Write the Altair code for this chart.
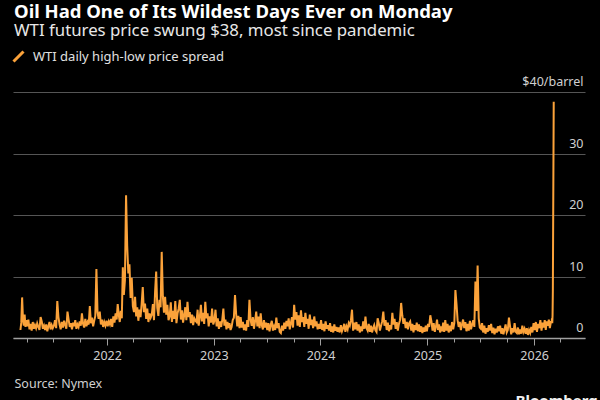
import calendar
import altair as alt
import pandas as pd

SERIES = "WTI daily high-low price spread"

# WTI daily high-low spread ($/barrel), ~8 readings per month
y2021 = [  # Mar (from the 9th) .. Dec
    [1.3, 2.5, 6.6, 3.2, 2.0, 3.8, 1.8, 2.9],
    [1.9, 3.0, 1.4, 2.3, 1.2, 2.6, 1.5, 2.1],
    [1.6, 2.4, 1.8, 1.3, 3.4, 2.7, 1.5, 2.0],
    [1.3, 2.2, 1.1, 1.9, 2.6, 1.4, 2.1, 1.6],
    [2.0, 2.9, 1.6, 6.0, 3.4, 2.2, 1.4, 2.6],
    [1.7, 2.8, 2.1, 1.5, 4.3, 3.0, 1.8, 2.4],
    [1.4, 2.5, 1.9, 2.9, 1.5, 2.2, 1.8, 2.7],
    [2.0, 4.0, 2.3, 1.7, 3.1, 1.9, 2.6, 2.2],
    [5.2, 2.4, 3.3, 1.9, 2.8, 3.6, 11.2, 4.2],
    [3.1, 4.3, 2.2, 3.0, 1.8, 2.6, 2.0, 2.8],
]
y2022 = [
    [1.9, 2.7, 2.2, 3.1, 1.8, 3.5, 2.5, 4.0],
    [3.0, 5.5, 3.8, 2.6, 4.4, 3.2, 11.5, 7.0],
    [9.4, 23.2, 15.0, 10.5, 12.0, 6.5, 9.8, 5.2],
    [4.2, 6.7, 3.5, 5.0, 2.8, 4.6, 3.4, 5.5],
    [8.3, 4.2, 5.6, 3.1, 4.8, 2.6, 4.0, 3.3],
    [3.8, 5.5, 2.9, 7.5, 10.8, 4.9, 3.6, 6.2],
    [5.0, 14.0, 6.8, 4.1, 6.7, 3.8, 5.4, 2.9],
    [3.5, 5.8, 2.6, 4.4, 3.1, 6.0, 2.4, 4.0],
    [4.8, 6.2, 3.0, 4.5, 2.5, 3.7, 5.0, 2.9],
    [5.9, 3.4, 4.2, 2.4, 3.8, 2.1, 3.2, 2.8],
    [2.6, 4.6, 2.0, 3.4, 5.4, 2.7, 4.1, 2.3],
    [5.9, 3.2, 4.0, 1.9, 3.5, 2.5, 4.8, 2.2],
]
y2023 = [
    [2.8, 4.6, 1.9, 3.2, 1.5, 2.7, 1.8, 3.0],
    [4.8, 2.0, 3.0, 1.4, 2.6, 1.6, 2.4, 1.3],
    [1.8, 2.9, 3.3, 7.0, 3.9, 1.9, 3.6, 1.6],
    [3.4, 1.7, 2.6, 1.3, 2.2, 1.2, 2.9, 1.8],
    [6.2, 3.0, 2.0, 3.4, 1.5, 2.8, 4.3, 1.9],
    [3.5, 1.6, 4.0, 2.1, 1.4, 2.9, 1.7, 2.5],
    [1.3, 2.4, 1.1, 2.1, 2.8, 1.2, 1.9, 1.3],
    [3.3, 1.6, 2.4, 1.0, 0.8, 2.0, 1.2, 2.5],
    [1.5, 2.8, 1.9, 3.2, 1.4, 2.4, 3.4, 1.7],
    [5.4, 3.0, 4.2, 2.0, 3.7, 1.8, 4.5, 2.6],
    [3.4, 1.8, 4.1, 2.3, 3.1, 1.5, 3.8, 2.1],
    [3.0, 1.6, 3.5, 1.9, 2.7, 1.4, 2.3, 1.5],
]
y2024 = [
    [2.9, 1.3, 2.3, 1.1, 2.7, 1.5, 2.1, 1.2],
    [2.4, 1.0, 1.9, 0.9, 2.2, 1.2, 1.8, 1.0],
    [1.7, 0.9, 2.1, 1.1, 1.6, 2.3, 1.0, 1.9],
    [1.4, 2.4, 2.0, 2.9, 4.6, 1.2, 2.5, 1.4],
    [2.6, 1.2, 2.2, 0.9, 1.9, 1.1, 2.7, 1.5],
    [3.5, 1.6, 1.2, 2.3, 1.0, 2.0, 0.9, 1.6],
    [2.1, 1.3, 1.0, 3.2, 2.4, 1.2, 2.0, 2.7],
    [4.3, 2.0, 2.9, 1.3, 2.5, 1.1, 2.1, 1.4],
    [4.1, 2.2, 3.1, 1.5, 2.6, 1.2, 2.3, 2.9],
    [5.7, 3.7, 2.3, 3.2, 1.6, 2.6, 1.4, 2.4],
    [2.7, 1.2, 2.3, 0.9, 2.1, 1.3, 2.5, 1.1],
    [2.2, 1.0, 1.9, 0.8, 1.7, 1.0, 2.0, 1.1],
]
y2025 = [
    [2.3, 1.8, 3.7, 2.7, 1.2, 2.4, 1.0, 1.9],
    [3.0, 1.3, 2.2, 0.9, 1.9, 1.1, 2.5, 1.0],
    [2.9, 1.2, 2.3, 0.9, 2.0, 1.1, 2.6, 1.4],
    [2.4, 7.8, 5.5, 2.9, 1.8, 2.6, 1.3, 2.2],
    [3.0, 1.6, 2.6, 1.1, 2.3, 1.2, 2.8, 1.4],
    [2.2, 2.9, 1.8, 9.2, 4.4, 11.8, 3.2, 1.7],
    [1.5, 2.4, 0.9, 2.0, 0.7, 1.6, 1.0, 2.1],
    [1.2, 2.3, 0.8, 1.7, 0.6, 1.5, 0.9, 1.9],
    [1.1, 2.0, 0.7, 1.6, 0.6, 1.4, 2.2, 0.9],
    [1.3, 3.3, 1.9, 0.6, 1.6, 0.9, 2.4, 1.0],
    [0.8, 1.7, 0.6, 1.4, 0.7, 2.0, 1.0, 1.5],
    [0.7, 1.6, 0.5, 1.3, 0.8, 1.8, 0.9, 2.4],
]
y2026 = [  # Jan, Feb
    [1.3, 2.6, 1.0, 2.3, 1.6, 2.9, 1.2, 2.5],
    [1.7, 2.9, 1.3, 2.7, 2.0, 3.0, 1.6, 2.6],
]
mar2026_days = ["2026-03-02", "2026-03-03", "2026-03-04", "2026-03-05", "2026-03-06", "2026-03-09"]
mar2026_vals = [2.6, 3.2, 2.4, 3.7, 7.6, 38.4]

y_ticks = [0, 10, 20, 30, 40]

rows = []


def add_year(year, first_month, months, first_day=1):
    for j, vals in enumerate(months):
        m = first_month + j
        start = pd.Timestamp(year, m, first_day if j == 0 else 1)
        end = pd.Timestamp(year, m, calendar.monthrange(year, m)[1]) + pd.Timedelta(days=1)
        span = (end - start) / len(vals)
        for i, v in enumerate(vals):
            rows.append({"date": start + span * (i + 0.5), "spread": v})


add_year(2021, 3, y2021, first_day=9)
add_year(2022, 1, y2022)
add_year(2023, 1, y2023)
add_year(2024, 1, y2024)
add_year(2025, 1, y2025)
add_year(2026, 1, y2026)
for d, v in zip(mar2026_days, mar2026_vals):
    rows.append({"date": pd.Timestamp(d), "spread": v})

df = pd.DataFrame(rows)
df["series"] = SERIES

quarters = [alt.DateTime(year=y, month=m, date=1)
            for y in range(2021, 2027) for m in (1, 4, 7, 10)
            if (y, m) >= (2021, 4) and (y, m) <= (2026, 4)]

FONT = "Noto Sans"
ORANGE = "#fba23a"

chart = alt.Chart(df).mark_line(strokeWidth=2.0, strokeJoin="miter").encode(
    x=alt.X(
        "date:T",
        scale=alt.Scale(domain=[alt.DateTime(year=2021, month=2, date=13),
                                alt.DateTime(year=2026, month=6, date=24)]),
        axis=alt.Axis(
            values=quarters,
            labelExpr="month(datum.value) == 0 ? timeFormat(datum.value, '%Y') : ''",
            grid=False,
            domainColor="#a0a0a0",
            domainWidth=1.5,
            tickColor="#a0a0a0",
            tickWidth=1,
            tickSize={"condition": {"test": "month(datum.value) == 0", "value": 7}, "value": 4},
            labelFont=FONT,
            labelFontSize=12.5,
            labelColor="#d0d0d0",
            labelPadding=4,
            labelFlush=False,
            title="Source: Nymex",
            titleFont=FONT,
            titleFontSize=12.5,
            titleFontWeight="normal",
            titleColor="#d0d0d0",
            titleAnchor="start",
            titleAlign="left",
            titleBaseline="middle",
            titleX=1,
            titleY=45,
        ),
    ),
    y=alt.Y(
        "spread:Q",
        scale=alt.Scale(domain=[0, 40], nice=False),
        axis=alt.Axis(
            orient="right",
            values=y_ticks,
            labelExpr="datum.value == 40 ? '$40/barrel' : datum.label",
            grid=True,
            gridColor="#555555",
            gridWidth=1,
            domain=False,
            ticks=False,
            labelAlign="right",
            labelBaseline="alphabetic",
            labelPadding=-2,
            labelOffset=-6.5,
            labelFlush=False,
            labelFont=FONT,
            labelFontSize=12.5,
            labelColor="#d0d0d0",
            title="Bloomberg",
            titleAngle=0,
            titleFont=FONT,
            titleFontSize=15,
            titleFontWeight="bold",
            titleColor="#f0f0f0",
            titleAlign="left",
            titleBaseline="alphabetic",
            titleX=-70,
            titleY=313,
        ),
    ),
    color=alt.Color(
        "series:N",
        scale=alt.Scale(range=[ORANGE]),
        legend=alt.Legend(
            title=None,
            orient="none",
            legendX=-1,
            legendY=-42,
            symbolType="M-1,1L1,-1",
            symbolSize=100,
            symbolStrokeWidth=3,
            labelFont=FONT,
            labelFontSize=13,
            labelColor="#e0e0e0",
            labelOffset=8,
            labelLimit=0,
        ),
    ),
).properties(
    width=572,
    height=246,
    title=alt.TitleParams(
        text="Oil Had One of Its Wildest Days Ever on Monday",
        subtitle="WTI futures price swung $38, most since pandemic",
        anchor="start",
        frame="group",
        font=FONT,
        fontSize=18.5,
        fontWeight="bold",
        color="#ffffff",
        subtitleFont=FONT,
        subtitleFontSize=16.8,
        subtitleColor="#e8e8e8",
        subtitlePadding=2,
        offset=10,
        dx=1,
    ),
    autosize=alt.AutoSizeParams(type="none"),
    padding={"left": 13, "top": 92, "right": 15, "bottom": 62},
    background="#000000",
).configure_view(stroke=None)

chart.save("out.html", embed_options={"renderer": "svg", "actions": False})
